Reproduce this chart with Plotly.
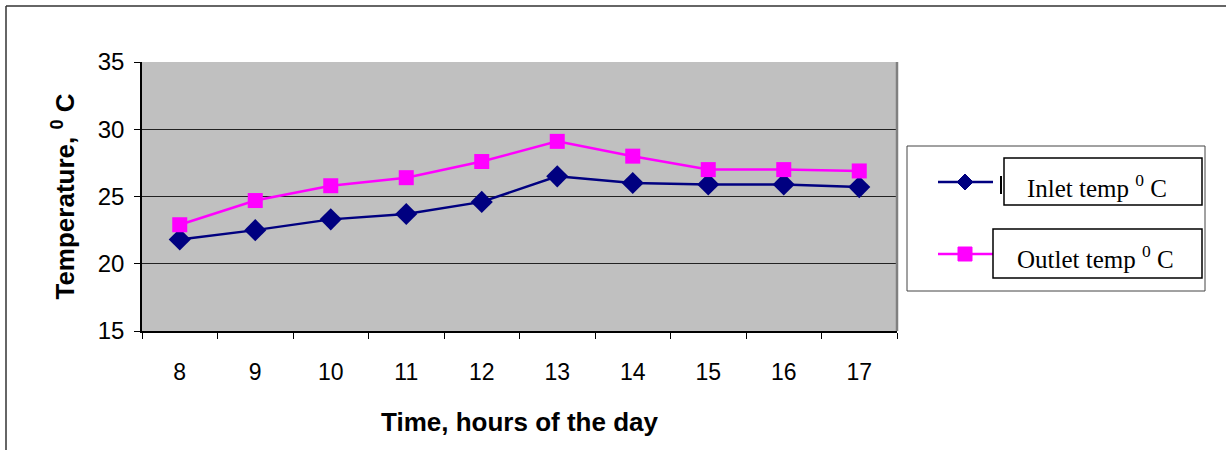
import plotly.graph_objects as go

hours = ["8", "9", "10", "11", "12", "13", "14", "15", "16", "17"]
inlet = [21.8, 22.5, 23.3, 23.7, 24.6, 26.5, 26.0, 25.9, 25.9, 25.7]
outlet = [22.9, 24.7, 25.8, 26.4, 27.6, 29.1, 28.0, 27.0, 27.0, 26.9]
y_ticks = [15, 20, 25, 30, 35]
series_names = ["Inlet temp <sup>0</sup> C", "Outlet temp <sup>0</sup> C"]
series_colors = ["#000080", "#FF00FF"]

W, H = 1226, 450
L, R, T, B = 142, 897, 62, 331

def px(x):
    return (x - L) / (R - L)

def py(y):
    return (B - y) / (B - T)

fig = go.Figure()
fig.add_trace(go.Scatter(x=hours, y=inlet, mode="lines+markers", name=series_names[0],
                         line=dict(color=series_colors[0], width=2.5),
                         marker=dict(symbol="diamond", size=17, color=series_colors[0])))
fig.add_trace(go.Scatter(x=hours, y=outlet, mode="lines+markers", name=series_names[1],
                         line=dict(color=series_colors[1], width=2.5),
                         marker=dict(symbol="square", size=15, color=series_colors[1])))

shapes = []
# outer border
shapes.append(dict(type="line", xref="paper", yref="paper", x0=px(6), x1=px(1230), y0=py(6), y1=py(6),
                   line=dict(color="#333333", width=1.5)))
shapes.append(dict(type="line", xref="paper", yref="paper", x0=px(6), x1=px(6), y0=py(6), y1=py(460),
                   line=dict(color="#333333", width=1.5)))
# right border of plot area
shapes.append(dict(type="line", xref="paper", yref="paper", x0=1, x1=1, y0=0, y1=1,
                   line=dict(color="#808080", width=2.5)))
# legend box
shapes.append(dict(type="rect", xref="paper", yref="paper", x0=px(907), x1=px(1205), y0=py(146), y1=py(291),
                   line=dict(color="#444444", width=1), fillcolor="white", layer="above"))
# small bar
shapes.append(dict(type="line", xref="paper", yref="paper", x0=px(1001), x1=px(1001), y0=py(176), y1=py(194),
                   line=dict(color="black", width=2), layer="above"))
# legend samples
ly = [182, 254]
for i, c in enumerate(series_colors):
    shapes.append(dict(type="line", xref="paper", yref="paper", x0=px(938), x1=px(993), y0=py(ly[i]), y1=py(ly[i]),
                       line=dict(color=c, width=2.5), layer="above"))
cx, cy, r = 965, ly[0], 8
shapes.append(dict(type="path", xref="paper", yref="paper",
                   path=f"M {px(cx-r)},{py(cy)} L {px(cx)},{py(cy-r)} L {px(cx+r)},{py(cy)} L {px(cx)},{py(cy+r)} Z",
                   fillcolor=series_colors[0], line=dict(color=series_colors[0], width=1), layer="above"))
cx, cy, s = 965, ly[1], 7
shapes.append(dict(type="rect", xref="paper", yref="paper", x0=px(cx-s), x1=px(cx+s), y0=py(cy-s), y1=py(cy+s),
                   fillcolor=series_colors[1], line=dict(color=series_colors[1], width=1), layer="above"))
# text boxes (outline only)
shapes.append(dict(type="rect", xref="paper", yref="paper", x0=px(1004), x1=px(1202), y0=py(158), y1=py(205),
                   line=dict(color="black", width=1.5), layer="above"))
shapes.append(dict(type="rect", xref="paper", yref="paper", x0=px(993), x1=px(1202), y0=py(229), y1=py(278),
                   line=dict(color="black", width=1.5), layer="above"))

annotations = [
    dict(xref="paper", yref="paper", x=px(1097), y=py(186), text=series_names[0], showarrow=False,
         font=dict(family="Liberation Serif", size=25, color="black"), xanchor="center", yanchor="middle"),
    dict(xref="paper", yref="paper", x=px(1095), y=py(257), text=series_names[1], showarrow=False,
         font=dict(family="Liberation Serif", size=25, color="black"), xanchor="center", yanchor="middle"),
]

fig.update_layout(
    width=W, height=H,
    margin=dict(l=L, r=W - R, t=T, b=H - B),
    paper_bgcolor="white", plot_bgcolor="#C0C0C0",
    showlegend=False,
    font=dict(family="Arial, Liberation Sans", size=22, color="black"),
    shapes=shapes, annotations=annotations,
    xaxis=dict(type="category", range=[-0.5, 9.5], tickson="boundaries", ticks="outside", ticklen=6,
               tickcolor="black", showline=True, linecolor="black", linewidth=1.5, showgrid=False,
               ticklabelstandoff=20, tickfont=dict(size=23),
               title=dict(text="<b>Time, hours of the day</b>", font=dict(size=26), standoff=28)),
    yaxis=dict(range=[15, 35], tickvals=y_ticks, ticks="outside", ticklen=6, tickcolor="black",
               showline=True, linecolor="black", linewidth=1.5, showgrid=True, gridcolor="#222222",
               gridwidth=1, zeroline=False, tickfont=dict(size=24), ticklabelstandoff=5,
               title=dict(text="<b>Temperature, <sup>0</sup> C</b>", font=dict(size=26), standoff=16)),
)

fig.write_html("out.html", config={"displayModeBar": False},
               post_script="document.body.style.margin='0';document.body.style.overflow='hidden';")
